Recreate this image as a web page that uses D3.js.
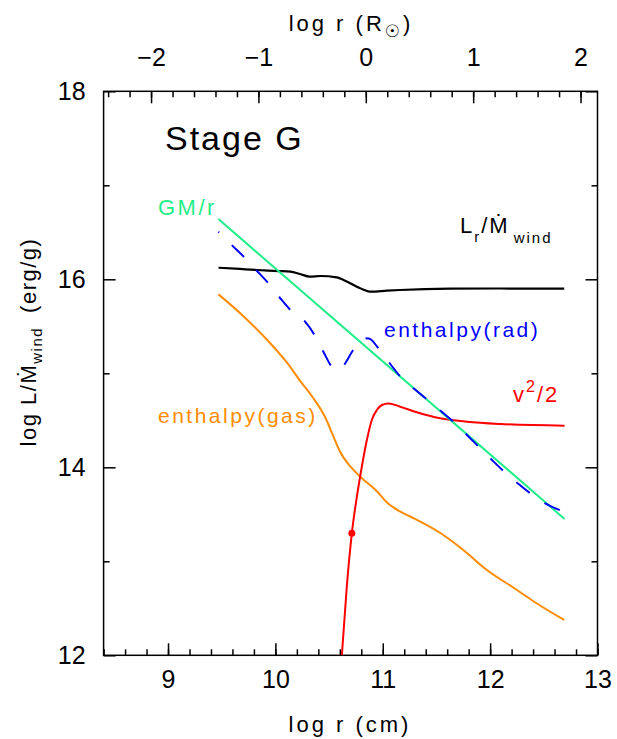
<!DOCTYPE html>
<html lang="en">
  <head>
    <meta charset="UTF-8" />
    <title>Stage G</title>
    <script src="https://cdn.jsdelivr.net/npm/d3@7"></script>
    <style>
      body { margin: 0; background: #fff; }
      text { font-family: "Liberation Sans", Arial, sans-serif; }
    </style>
  </head>
  <body>
    <svg width="617" height="739"></svg>
  </body>

  <script>
    // log r (cm) and log L/Mdot for each curve
    var gmrX = [9.469, 12.693];
    var gmrY = [16.641, 13.451];

    var lumX = [9.47, 9.67, 9.83, 10.03, 10.14, 10.23, 10.32, 10.42, 10.57, 10.67, 10.79, 10.89, 11.04, 11.16, 11.63, 12.1, 12.69];
    var lumY = [16.123, 16.11, 16.099, 16.088, 16.081, 16.056, 16.028, 16.035, 16.021, 15.974, 15.904, 15.868, 15.879, 15.886, 15.9, 15.902, 15.9];

    var radX = [9.469, 9.593, 9.711, 9.82, 9.935, 10.038, 10.146, 10.277, 10.37, 10.447, 10.526, 10.58, 10.634, 10.72, 10.82, 10.87, 10.96, 11.06, 11.193, 11.286, 11.426, 11.55, 11.675, 11.784, 11.908, 12.017, 12.141, 12.265, 12.395, 12.513, 12.684];
    var radY = [16.506, 16.365, 16.234, 16.099, 15.957, 15.809, 15.666, 15.549, 15.397, 15.23, 15.07, 15.03, 15.081, 15.24, 15.372, 15.37, 15.266, 15.113, 14.929, 14.84, 14.709, 14.59, 14.468, 14.344, 14.202, 14.078, 13.943, 13.822, 13.705, 13.617, 13.528];

    var gasX = [9.47, 9.7, 9.92, 10.11, 10.23, 10.35, 10.46, 10.54, 10.6, 10.7, 10.79, 10.95, 11.04, 11.16, 11.26, 11.54, 11.75, 11.97, 12.25, 12.41, 12.69];
    var gasY = [15.84, 15.61, 15.36, 15.11, 14.92, 14.74, 14.54, 14.33, 14.17, 14.006, 13.9, 13.74, 13.625, 13.53, 13.474, 13.298, 13.12, 12.907, 12.695, 12.57, 12.376];

    var kinX = [10.6, 10.619, 10.665, 10.712, 10.759, 10.805, 10.852, 10.898, 10.945, 10.992, 11.053, 11.162, 11.318, 11.535, 11.784, 12.094, 12.693];
    var kinY = [11.75, 12.0, 12.73, 13.298, 13.687, 14.006, 14.29, 14.503, 14.61, 14.663, 14.68, 14.645, 14.585, 14.521, 14.485, 14.461, 14.443];

    var sonicPoint = [10.712, 13.298];

    var bottomTicks = [9, 10, 11, 12, 13];
    var leftTicks = [12, 14, 16, 18];
    var topTicks = [-2, -1, 0, 1, 2];
    var logRsun = 10.842;

    var svg = d3.select('svg');
    var x0 = 103.6, x1 = 597.5, y0 = 91.3, y1 = 655.3; // 图框

    var x = d3.scaleLinear().domain([8.4, 13]).range([x0, x1]);
    var xSun = d3.scaleLinear().domain([8.4 - logRsun, 13 - logRsun]).range([x0, x1]);
    var y = d3.scaleLinear().domain([12, 18]).range([y1, y0]);

    svg.append('clipPath').attr('id', 'clip')
      .append('rect').attr('x', x0).attr('y', y0)
      .attr('width', x1 - x0).attr('height', y1 - y0);

    //坐标轴 (ticks inward)
    function styleAxis(g) {
      g.select('.domain').remove();
      g.selectAll('line').attr('stroke', '#000').attr('stroke-width', 1.5);
      g.selectAll('text').attr('font-size', 25).attr('fill', '#000');
    }
    var minorB = d3.range(8.4, 13.01, 0.2);
    svg.append('g').attr('transform', 'translate(0,' + y1 + ')')
      .call(d3.axisBottom(x).tickValues(minorB).tickSize(-6).tickFormat(''))
      .call(styleAxis);
    svg.append('g').attr('transform', 'translate(0,' + y1 + ')')
      .call(d3.axisBottom(x).tickValues(bottomTicks).tickSize(-12).tickPadding(15).tickFormat(d3.format('d')))
      .call(styleAxis);

    var minorT = d3.range(-2.4, 2.11, 0.2);
    svg.append('g').attr('transform', 'translate(0,' + y0 + ')')
      .call(d3.axisTop(xSun).tickValues(minorT).tickSize(-6).tickFormat(''))
      .call(styleAxis);
    svg.append('g').attr('transform', 'translate(0,' + y0 + ')')
      .call(d3.axisTop(xSun).tickValues(topTicks).tickSize(-12).tickPadding(25).tickFormat(d3.format('d')))
      .call(styleAxis);

    var minorY = [13, 15, 17];
    svg.append('g').attr('transform', 'translate(' + x0 + ',0)')
      .call(d3.axisLeft(y).tickValues(minorY).tickSize(-6).tickFormat(''))
      .call(styleAxis);
    svg.append('g').attr('transform', 'translate(' + x0 + ',0)')
      .call(d3.axisLeft(y).tickValues(leftTicks).tickSize(-12).tickPadding(18).tickFormat(d3.format('d')))
      .call(styleAxis);
    svg.append('g').attr('transform', 'translate(' + x1 + ',0)')
      .call(d3.axisRight(y).tickValues(minorY).tickSize(-6).tickFormat(''))
      .call(styleAxis);
    svg.append('g').attr('transform', 'translate(' + x1 + ',0)')
      .call(d3.axisRight(y).tickValues(leftTicks).tickSize(-12).tickFormat(''))
      .call(styleAxis);

    svg.append('rect').attr('x', x0).attr('y', y0)
      .attr('width', x1 - x0).attr('height', y1 - y0)
      .attr('fill', 'none').attr('stroke', '#000').attr('stroke-width', 1.5);

    // 曲线
    var line = d3.line()
      .x(function (d) { return x(d[0]); })
      .y(function (d) { return y(d[1]); })
      .curve(d3.curveMonotoneX);
    function pts(xs, ys) { return xs.map(function (v, i) { return [v, ys[i]]; }); }

    var plot = svg.append('g').attr('clip-path', 'url(#clip)');
    plot.append('path').attr('d', line(pts(gasX, gasY)))
      .attr('fill', 'none').attr('stroke', '#ff8c00').attr('stroke-width', 2);
    plot.append('path').attr('d', line(pts(kinX, kinY)))
      .attr('fill', 'none').attr('stroke', '#ff0000').attr('stroke-width', 2);
    plot.append('path').attr('d', line(pts(lumX, lumY)))
      .attr('fill', 'none').attr('stroke', '#000').attr('stroke-width', 2.2);
    plot.append('path').attr('d', line(pts(gmrX, gmrY)))
      .attr('fill', 'none').attr('stroke', '#1eee88').attr('stroke-width', 2);
    plot.append('path').attr('d', line(pts(radX, radY)))
      .attr('fill', 'none').attr('stroke', '#0000ff').attr('stroke-width', 2)
      .attr('stroke-dasharray', '17,18').attr('stroke-dashoffset', 16);
    plot.append('circle')
      .attr('cx', x(sonicPoint[0])).attr('cy', y(sonicPoint[1]))
      .attr('r', 3.5).attr('fill', '#ff0000');

    // 文字
    svg.append('text').attr('x', 350).attr('y', 732).attr('text-anchor', 'middle')
      .attr('font-size', 22).attr('letter-spacing', 3).text('log r (cm)');

    var tt = svg.append('text').attr('x', 351).attr('y', 31).attr('text-anchor', 'middle')
      .attr('font-size', 22).attr('letter-spacing', 3);
    tt.append('tspan').text('log r (R');
    tt.append('tspan').attr('font-size', 17).attr('dy', 6).attr('font-family', 'DejaVu Sans').text('\u2609');
    tt.append('tspan').attr('dy', -6).text(')');

    var yt = svg.append('text').attr('transform', 'translate(36,342) rotate(-90)')
      .attr('text-anchor', 'middle').attr('font-size', 22).attr('letter-spacing', 1.5);
    yt.append('tspan').text('log L/\u1E40');
    yt.append('tspan').attr('font-size', 15).attr('dy', 6).text('wind');
    yt.append('tspan').attr('dy', -6).attr('dx', 14).text('(erg/g)');

    svg.append('text').attr('x', 165).attr('y', 150)
      .attr('font-size', 34).attr('letter-spacing', 2).text('Stage G');

    svg.append('text').attr('x', 158).attr('y', 215)
      .attr('font-size', 22).attr('letter-spacing', 2.5).attr('fill', '#1eee88').text('GM/r');

    var lt = svg.append('text').attr('x', 460).attr('y', 233).attr('font-size', 22).attr('letter-spacing', 2);
    lt.append('tspan').text('L');
    lt.append('tspan').attr('font-size', 15).attr('dy', 9).text('r');
    lt.append('tspan').attr('dy', -9).text('/\u1E40');
    lt.append('tspan').attr('font-size', 15).attr('dy', 10).attr('dx', 4).text('wind');

    svg.append('text').attr('x', 384).attr('y', 337)
      .attr('font-size', 21).attr('letter-spacing', 2.5).attr('fill', '#0000ff').text('enthalpy(rad)');

    svg.append('text').attr('x', 158).attr('y', 423)
      .attr('font-size', 21).attr('letter-spacing', 2.5).attr('fill', '#ff8c00').text('enthalpy(gas)');

    var vt = svg.append('text').attr('x', 513).attr('y', 402).attr('font-size', 22)
      .attr('letter-spacing', 2).attr('fill', '#ff0000');
    vt.append('tspan').text('v');
    vt.append('tspan').attr('font-size', 16).attr('dy', -10).text('2');
    vt.append('tspan').attr('dy', 10).text('/2');
  </script>
</html>
